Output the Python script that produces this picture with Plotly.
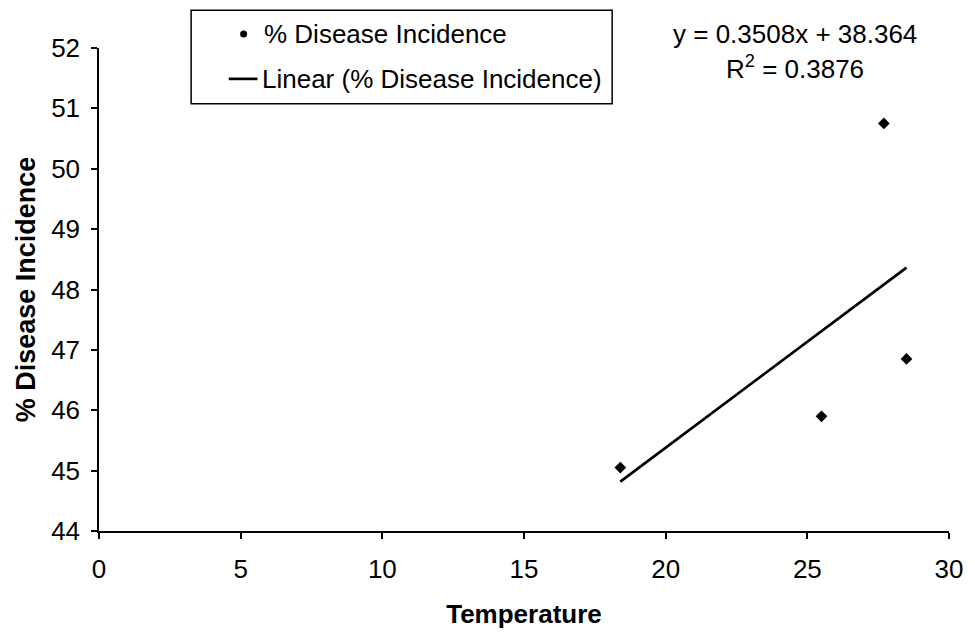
import plotly.graph_objects as go

# Observations: temperature vs % disease incidence
temperature = [18.4, 25.5, 27.7, 28.5]
incidence = [45.05, 45.9, 50.75, 46.85]

# Linear trend line coefficients
slope = 0.3508
intercept = 38.364
r_squared = 0.3876

x_ticks = [0, 5, 10, 15, 20, 25, 30]
y_ticks = [44, 45, 46, 47, 48, 49, 50, 51, 52]

W, H = 975, 636
ML, MR, MT, MB = 99, 18, 48, 103
PW, PH = W - ML - MR, H - MT - MB

FONT = "Liberation Sans, Arial, sans-serif"
FS = 26


def px_x(p):
    return (p - ML) / PW


def px_y(p):
    return (H - MB - p) / PH


trend_x = [min(temperature), max(temperature)]
trend_y = [slope * v + intercept for v in trend_x]

fig = go.Figure()
fig.add_trace(go.Scatter(
    x=temperature, y=incidence, mode="markers",
    name="% Disease Incidence",
    marker=dict(symbol="diamond", size=9, color="black"),
    showlegend=False,
))
fig.add_trace(go.Scatter(
    x=trend_x, y=trend_y, mode="lines",
    name="Linear (% Disease Incidence)",
    line=dict(color="black", width=2.7),
    showlegend=False,
))

# Legend box drawn by hand
lx0, lx1, ly0, ly1 = 192, 617, 10, 104
shapes = [
    dict(type="rect", xref="paper", yref="paper",
         x0=px_x(lx0), x1=px_x(lx1), y0=px_y(ly1), y1=px_y(ly0),
         line=dict(color="black", width=1.5), fillcolor="white"),
    dict(type="line", xref="paper", yref="paper",
         x0=px_x(230), x1=px_x(259), y0=px_y(79), y1=px_y(79),
         line=dict(color="black", width=2.7)),
    dict(type="circle", xref="paper", yref="paper",
         xsizemode="pixel", ysizemode="pixel",
         xanchor=px_x(245), yanchor=px_y(34),
         x0=-3.5, x1=3.5, y0=-3.5, y1=3.5,
         line=dict(color="black", width=0), fillcolor="black"),
]

annotations = [
    dict(text="% Disease Incidence", xref="paper", yref="paper",
         x=px_x(264), y=px_y(34), xanchor="left", yanchor="middle",
         showarrow=False, font=dict(family=FONT, size=FS, color="black")),
    dict(text="Linear (% Disease Incidence)", xref="paper", yref="paper",
         x=px_x(262), y=px_y(79), xanchor="left", yanchor="middle",
         showarrow=False, font=dict(family=FONT, size=FS, color="black")),
    dict(text=f"y = {slope}x + {intercept}", xref="paper", yref="paper",
         x=px_x(802), y=px_y(34), xanchor="center", yanchor="middle",
         showarrow=False, font=dict(family=FONT, size=FS, color="black")),
    dict(text=f"R<sup>2</sup> = {r_squared}", xref="paper", yref="paper",
         x=px_x(802), y=px_y(68), xanchor="center", yanchor="middle",
         showarrow=False, font=dict(family=FONT, size=FS, color="black")),
]

fig.update_layout(
    width=W, height=H,
    margin=dict(l=ML, r=MR, t=MT, b=MB, pad=0),
    paper_bgcolor="white", plot_bgcolor="white",
    font=dict(family=FONT, size=FS, color="black"),
    shapes=shapes, annotations=annotations,
    showlegend=False,
)
fig.update_xaxes(
    range=[0, 30], tickvals=x_ticks, ticks="outside", ticklen=6, tickwidth=1.5,
    tickcolor="black", showline=True, linecolor="black", linewidth=1.5,
    showgrid=False, zeroline=False, ticklabelstandoff=8,
    tickfont=dict(family=FONT, size=FS, color="black"),
    title=dict(text="<b>Temperature</b>", standoff=22,
               font=dict(family=FONT, size=FS, color="black")),
)
fig.update_yaxes(
    range=[44, 52], tickvals=y_ticks, ticks="outside", ticklen=6, tickwidth=1.5,
    tickcolor="black", showline=True, linecolor="black", linewidth=1.5,
    showgrid=False, zeroline=False, ticklabelstandoff=6,
    tickfont=dict(family=FONT, size=FS, color="black"),
    title=dict(text="<b>% Disease Incidence</b>", standoff=8,
               font=dict(family=FONT, size=27, color="black")),
)

fig.write_html("out.html")
